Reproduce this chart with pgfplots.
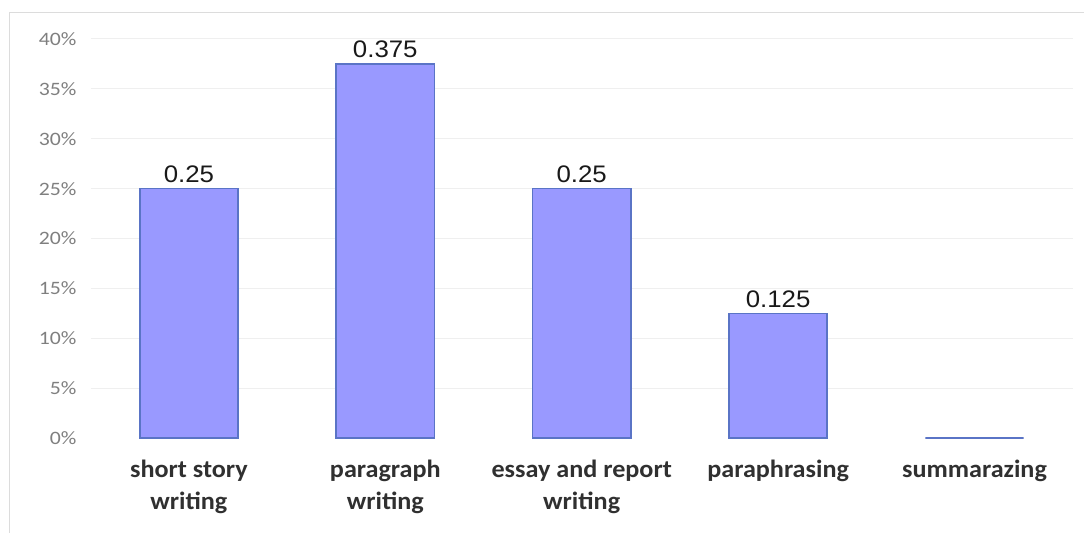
\documentclass[border=0pt]{standalone}
\usepackage{fontspec}
\setmainfont{Carlito}
\newfontfamily\tickfont{Carlito}[FakeStretch=1.15]
\newfontfamily\catfont{Carlito}[FakeStretch=1.05]
\newfontfamily\valfont{Liberation Sans}[FakeStretch=1.08]
\usepackage{pgfplots}
\pgfplotsset{compat=1.18}
\definecolor{barfill}{HTML}{9999FF}
\definecolor{baredge}{HTML}{5A74C6}
\definecolor{gridc}{HTML}{EFEFEF}
\definecolor{tickc}{HTML}{7F7F7F}
\definecolor{catc}{HTML}{303030}
\definecolor{framec}{HTML}{DCDCDC}

\begin{document}
\begin{tikzpicture}
\path[use as bounding box] (-90.7bp,-95bp) rectangle (993.3bp,438bp);
\draw[framec, line width=1bp] (-81bp,-95bp) -- (-81bp,425bp) -- (993.3bp,425bp);
\begin{axis}[
    at={(0,0)}, anchor=south west,
    scale only axis,
    width=982bp, height=399bp,
    xmin=-0.5, xmax=4.5,
    ymin=0, ymax=0.4,
    axis line style={draw=none},
    major tick length=0pt,
    /pgf/number format/assume math mode=true,
    ytick={0.05,0.1,0.15,0.2,0.25,0.3,0.35,0.4},
    extra y ticks={0},
    extra y tick style={grid=none},
    ymajorgrids,
    grid style={gridc, line width=1bp},
    yticklabel={\pgfmathparse{\tick*100}\pgfmathprintnumber[fixed,precision=0]{\pgfmathresult}\%},
    yticklabel style={font=\tickfont\fontsize{19}{19}\selectfont, color=tickc, anchor=east, inner sep=0pt, xshift=-14bp},
    xtick={0,1,2,3,4},
    xticklabels={\strut short story\\writing, \strut paragraph\\writing, \strut essay and report\\writing, \strut paraphrasing, \strut summarazing},
    xticklabel style={font=\catfont\bfseries\fontsize{25}{32}\selectfont, color=catc, align=center, anchor=north, inner sep=0pt, yshift=-17bp},
    clip=false,
]
\addplot[ybar, bar width=0.5, fill=barfill, draw=baredge, line width=1.6bp]
    coordinates {(0,0.25) (1,0.375) (2,0.25) (3,0.125) (4,0)};
\addplot[draw=none, mark=none, point meta=explicit symbolic, nodes near coords,
    nodes near coords style={font=\valfont\fontsize{24}{24}\selectfont, color=black!90, anchor=base, inner sep=0pt, yshift=6bp}]
    coordinates {(0,0.25) [0.25] (1,0.375) [0.375] (2,0.25) [0.25] (3,0.125) [0.125]};
\end{axis}
\end{tikzpicture}
\end{document}
